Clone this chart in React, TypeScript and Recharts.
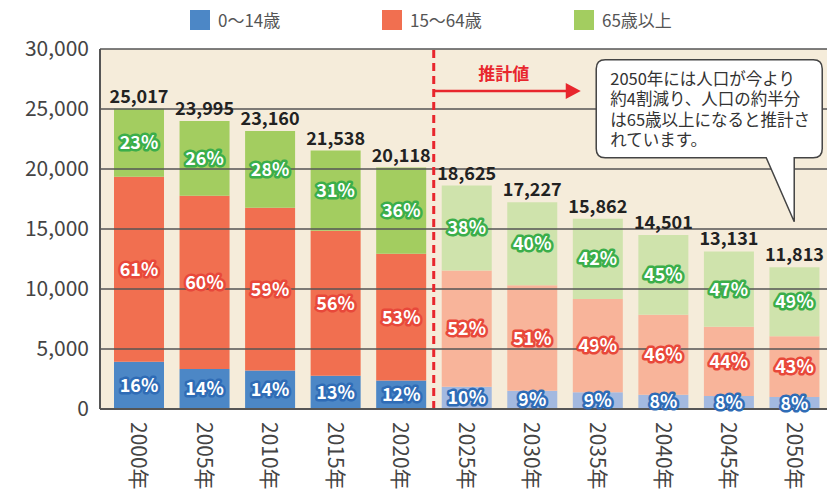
import {
  BarChart,
  Bar,
  Cell,
  XAxis,
  YAxis,
  CartesianGrid,
  ReferenceLine,
  ReferenceDot,
  LabelList,
} from "recharts";

const years = [
  "2000年", "2005年", "2010年", "2015年", "2020年", "2025年",
  "2030年", "2035年", "2040年", "2045年", "2050年",
];
const totals = [25017, 23995, 23160, 21538, 20118, 18625, 17227, 15862, 14501, 13131, 11813];
const young = [3942, 3340, 3200, 2780, 2380, 1860, 1520, 1400, 1180, 1080, 990];
const working = [15420, 14430, 13580, 12080, 10560, 9680, 8790, 7770, 6670, 5780, 5080];
const old = [5655, 6225, 6380, 6678, 7178, 7085, 6917, 6692, 6651, 6271, 5743];
const youngPct = [16, 14, 14, 13, 12, 10, 9, 9, 8, 8, 8];
const workingPct = [61, 60, 59, 56, 53, 52, 51, 49, 46, 44, 43];
const oldPct = [23, 26, 28, 31, 36, 38, 40, 42, 45, 47, 49];
const yTicks = [0, 5000, 10000, 15000, 20000, 25000, 30000];
const firstEstimate = "2025年";
const calloutLines = [
  "2050年には人口が今より",
  "約4割減り、人口の約半分",
  "は65歳以上になると推計さ",
  "れています。",
];

const series = [
  { key: "young", pctKey: "youngPct", label: "0〜14歳", color: "#4C87C6", light: "#A3B9E0", outline: "#2F6CB6" },
  { key: "working", pctKey: "workingPct", label: "15〜64歳", color: "#F16F50", light: "#F8B49A", outline: "#E8483A" },
  { key: "old", pctKey: "oldPct", label: "65歳以上", color: "#A3CD60", light: "#CFE3AC", outline: "#3BAE4A" },
];

const data = years.map((year, i) => ({
  year,
  young: young[i],
  working: working[i],
  old: old[i],
  youngPct: youngPct[i],
  workingPct: workingPct[i],
  oldPct: oldPct[i],
  total: totals[i],
}));

const FONT = "'Noto Sans CJK JP', 'Noto Sans', sans-serif";
const estimateIdx = years.indexOf(firstEstimate);

function PctLabel({ x, y, width, height, value, outline }: any) {
  return (
    <text
      x={x + width / 2}
      y={y + height / 2}
      dy="0.36em"
      textAnchor="middle"
      fill="#fff"
      stroke={outline}
      strokeWidth={5}
      strokeLinejoin="round"
      paintOrder="stroke"
      fontSize={18}
      fontWeight={700}
      fontFamily={FONT}
    >
      {value}%
    </text>
  );
}

function TotalLabel({ x, y, width, value }: any) {
  return (
    <text
      x={x + width / 2}
      y={y - 6}
      textAnchor="middle"
      fill="#222"
      fontSize={18}
      fontWeight={700}
      fontFamily={FONT}
    >
      {Number(value).toLocaleString()}
    </text>
  );
}

function YearTick({ x, y, payload }: any) {
  return (
    <g transform={`translate(${x},${y})`}>
      <text
        transform="rotate(90)"
        x={5}
        y={0}
        dy="0.36em"
        textAnchor="start"
        fill="#444"
        fontSize={21}
        fontFamily={FONT}
      >
        {payload.value}
      </text>
    </g>
  );
}

function EstimateArrow({ viewBox }: any) {
  const { x, y } = viewBox;
  const ay = y + 42;
  return (
    <g>
      <text x={x + 70} y={y + 25} dy="0.36em" textAnchor="middle" fill="#E8262D" fontSize={17} fontWeight={700} fontFamily={FONT}>
        推計値
      </text>
      <line x1={x} y1={ay} x2={x + 134} y2={ay} stroke="#E8262D" strokeWidth={2.5} />
      <polygon points={`${x + 132},${ay - 8} ${x + 147},${ay} ${x + 132},${ay + 8}`} fill="#E8262D" />
    </g>
  );
}

function Callout({ cx, cy }: any) {
  const left = cx - 198;
  const right = cx + 28;
  const top = cy - 162;
  const bottom = cy - 64;
  const r = 9;
  const path = [
    `M${left + r},${top}`,
    `H${right - r}`,
    `Q${right},${top} ${right},${top + r}`,
    `V${bottom - r}`,
    `Q${right},${bottom} ${right - r},${bottom}`,
    `H${cx}`,
    `L${cx},${cy}`,
    `L${cx - 28},${bottom}`,
    `H${left + r}`,
    `Q${left},${bottom} ${left},${bottom - r}`,
    `V${top + r}`,
    `Q${left},${top} ${left + r},${top}`,
    "Z",
  ].join(" ");
  return (
    <g>
      <path d={path} fill="#fff" stroke="#444" strokeWidth={1.5} />
      <text y={top + 19} dy="0.36em" fill="#333" fontSize={16.5} fontFamily={FONT}>
        {calloutLines.map((line, i) => (
          <tspan key={i} x={left + 14} dy={i === 0 ? "0.36em" : 20.5}>
            {line}
          </tspan>
        ))}
      </text>
    </g>
  );
}

function Legend() {
  return (
    <div style={{ position: "absolute", left: 190, top: 10, display: "flex", fontFamily: FONT }}>
      {series.map((s) => (
        <div key={s.key} style={{ width: 192, display: "flex", alignItems: "center" }}>
          <span style={{ width: 20, height: 20, background: s.color, display: "inline-block" }} />
          <span style={{ marginLeft: 8, fontSize: 17, color: "#555", lineHeight: "20px" }}>{s.label}</span>
        </div>
      ))}
    </div>
  );
}

export default function App() {
  return (
    <div style={{ position: "relative", width: 827, height: 495, background: "#fff" }}>
      <style>{"body{margin:0;overflow:hidden}"}</style>
      <BarChart
        width={827}
        height={495}
        data={data}
        margin={{ top: 49, right: 0, left: 0, bottom: 0 }}
        barSize={50}
        style={{ fontFamily: FONT }}
      >
        <CartesianGrid horizontal={false} vertical={false} fill="#F5ECDA" />
        <XAxis
          dataKey="year"
          interval={0}
          height={86}
          padding={{ left: 6, right: 0 }}
          tickLine={false}
          axisLine={{ stroke: "#555", strokeWidth: 2 }}
          tick={<YearTick />}
        />
        <YAxis
          width={100}
          domain={[0, 30000]}
          ticks={yTicks}
          tickLine={false}
          tickMargin={5}
          axisLine={{ stroke: "#555", strokeWidth: 2 }}
          tickFormatter={(v: number) => v.toLocaleString()}
          tick={{ fill: "#444", fontSize: 21, fontFamily: FONT }}
        />
        {series.map((s, si) => (
          <Bar key={s.key} dataKey={s.key} stackId="pop" isAnimationActive={false}>
            {data.map((_, i) => (
              <Cell key={i} fill={i >= estimateIdx ? s.light : s.color} />
            ))}
            <LabelList dataKey={s.pctKey} content={<PctLabel outline={s.outline} />} />
            {si === series.length - 1 && <LabelList dataKey="total" content={<TotalLabel />} />}
          </Bar>
        ))}
        {yTicks.slice(1).map((t) => (
          <ReferenceLine key={t} y={t} stroke="#555" strokeWidth={1.5} />
        ))}
        <ReferenceLine
          x={firstEstimate}
          position="start"
          stroke="#E8262D"
          strokeWidth={3}
          strokeDasharray="8 5"
          label={<EstimateArrow />}
        />
        <ReferenceDot x="2050年" y={15600} r={0} shape={<Callout />} />
      </BarChart>
      <Legend />
    </div>
  );
}
